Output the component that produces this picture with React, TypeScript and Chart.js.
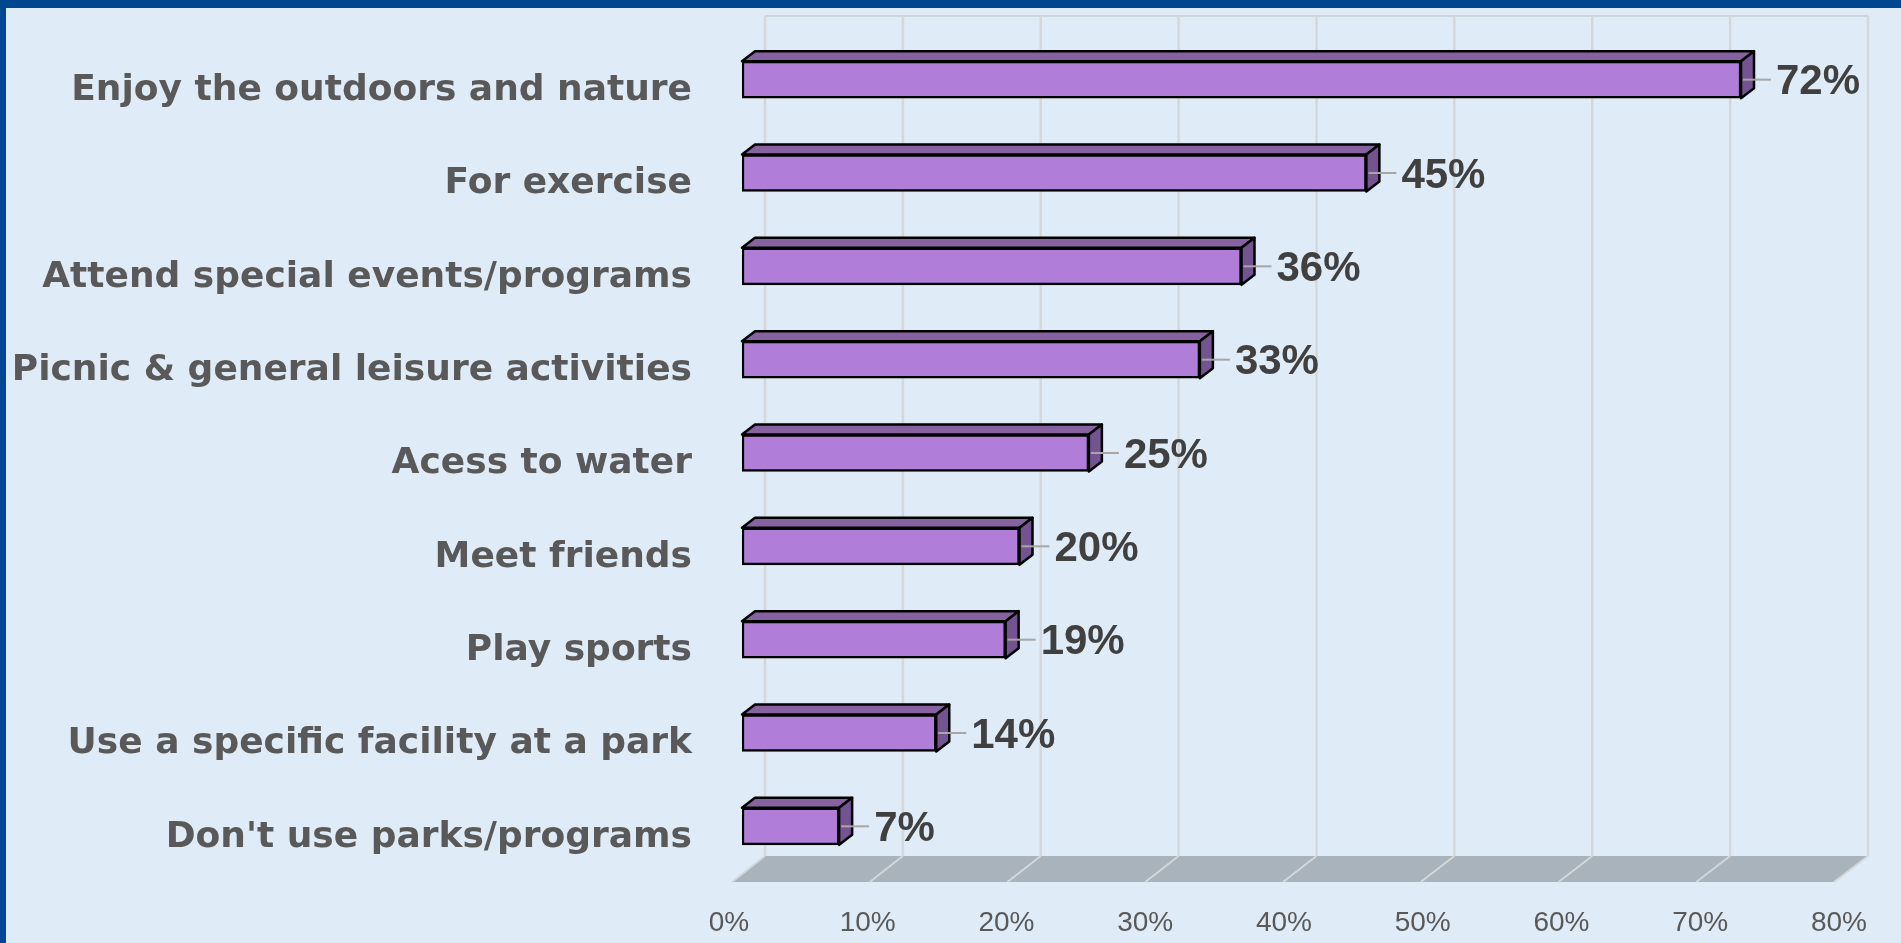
import { useEffect, useRef } from "react";
import { Chart, registerables } from "chart.js";

Chart.register(...registerables);

const categories = [
  "Enjoy the outdoors and nature",
  "For exercise",
  "Attend special events/programs",
  "Picnic & general leisure activities",
  "Acess to water",
  "Meet friends",
  "Play sports",
  "Use a specific facility at a park",
  "Don't use parks/programs",
];
const values = [0.72, 0.45, 0.36, 0.33, 0.25, 0.2, 0.19, 0.14, 0.07];
const valueLabels = ["72%", "45%", "36%", "33%", "25%", "20%", "19%", "14%", "7%"];
const xTickLabels = ["0%", "10%", "20%", "30%", "40%", "50%", "60%", "70%", "80%"];

const BORDER = "#01478F";
const PANEL = "#DFEBF7";
const FRONT = "#B07ED9";
const TOP = "#8662A0";
const SIDE = "#745391";
const GRID = "#D5D8DB";
const FLOOR = "#A9B3BB";
const DEPTH_X = 13;
const DEPTH_Y = -10;

const threeD = {
  id: "threeD",
  beforeDraw(chart: any) {
    const { ctx, width, height } = chart;
    ctx.save();
    ctx.fillStyle = BORDER;
    ctx.fillRect(0, 0, width, height);
    ctx.fillStyle = PANEL;
    ctx.fillRect(6, 8, width - 6, height - 8);
    ctx.restore();
  },
  beforeDatasetsDraw(chart: any) {
    const { ctx, chartArea: a, scales } = chart;
    const x = scales.x;
    const left = x.getPixelForValue(0);
    const backX = (v: number) => {
      const p = x.getPixelForValue(v);
      return p + 23 - (p - left) * 0.0063;
    };
    const frontX = (v: number) => {
      const p = x.getPixelForValue(v);
      return p - 10 - (p - left) * 0.0072;
    };
    const wallTop = a.top - 17;
    const floorBack = a.bottom - 17;
    const floorFront = a.bottom + 9;
    const tickVals: number[] = x.ticks.map((t: any) => t.value);
    const vMin = tickVals[0];
    const vMax = tickVals[tickVals.length - 1];
    ctx.save();
    ctx.fillStyle = FLOOR;
    ctx.beginPath();
    ctx.moveTo(backX(vMin), floorBack);
    ctx.lineTo(backX(vMax), floorBack);
    ctx.lineTo(frontX(vMax), floorFront);
    ctx.lineTo(frontX(vMin), floorFront);
    ctx.closePath();
    ctx.fill();
    ctx.strokeStyle = "#C9CFD6";
    ctx.lineWidth = 1.5;
    ctx.beginPath();
    ctx.moveTo(backX(vMin), wallTop);
    ctx.lineTo(backX(vMax), wallTop);
    ctx.stroke();
    ctx.strokeStyle = GRID;
    ctx.lineWidth = 2.5;
    tickVals.forEach((v) => {
      ctx.beginPath();
      ctx.moveTo(backX(v), wallTop);
      ctx.lineTo(backX(v), floorBack);
      ctx.stroke();
    });
    ctx.strokeStyle = "#D2D7DB";
    ctx.lineWidth = 2;
    tickVals.forEach((v) => {
      ctx.beginPath();
      ctx.moveTo(backX(v), floorBack);
      ctx.lineTo(frontX(v), floorFront);
      ctx.stroke();
    });
    ctx.restore();
  },
  afterDatasetsDraw(chart: any) {
    const { ctx } = chart;
    const meta = chart.getDatasetMeta(0);
    ctx.save();
    ctx.lineJoin = "round";
    meta.data.forEach((bar: any, i: number) => {
      const { x, y, base, height } = bar.getProps(["x", "y", "base", "height"], true);
      const l = Math.min(base, x);
      const r = Math.max(base, x);
      const t = y - height / 2;
      const b = y + height / 2;
      ctx.lineWidth = 2.5;
      ctx.strokeStyle = "#000";
      ctx.fillStyle = TOP;
      ctx.beginPath();
      ctx.moveTo(l, t);
      ctx.lineTo(l + DEPTH_X, t + DEPTH_Y);
      ctx.lineTo(r + DEPTH_X, t + DEPTH_Y);
      ctx.lineTo(r, t);
      ctx.closePath();
      ctx.fill();
      ctx.stroke();
      ctx.fillStyle = SIDE;
      ctx.beginPath();
      ctx.moveTo(r, t);
      ctx.lineTo(r + DEPTH_X, t + DEPTH_Y);
      ctx.lineTo(r + DEPTH_X, b + DEPTH_Y);
      ctx.lineTo(r, b);
      ctx.closePath();
      ctx.fill();
      ctx.stroke();
      ctx.strokeStyle = "#A6A6A6";
      ctx.lineWidth = 2;
      ctx.beginPath();
      ctx.moveTo(r + 2, y);
      ctx.lineTo(r + 30, y);
      ctx.stroke();
      ctx.fillStyle = "#404040";
      ctx.font = "bold 42px 'Liberation Sans', Arial, sans-serif";
      ctx.textAlign = "left";
      ctx.textBaseline = "middle";
      ctx.fillText(valueLabels[i], r + 35, y + 3);
    });
    ctx.restore();
  },
};

export default function App() {
  const ref = useRef<HTMLCanvasElement | null>(null);
  useEffect(() => {
    if (!ref.current) return;
    const chart = new Chart(ref.current, {
      type: "bar",
      data: {
        labels: categories,
        datasets: [
          {
            data: values,
            backgroundColor: FRONT,
            borderColor: "#000",
            borderWidth: 2.5,
            borderSkipped: false,
            barThickness: 37,
          },
        ],
      },
      options: {
        indexAxis: "y",
        responsive: false,
        animation: false,
        devicePixelRatio: 1,
        layout: { padding: { top: 33, right: 49, left: 0, bottom: 0 } },
        plugins: { legend: { display: false }, tooltip: { enabled: false } },
        scales: {
          x: {
            min: 0,
            max: 0.8,
            grid: { display: false, drawTicks: false },
            border: { display: false },
            afterFit: (s: any) => {
              s.height = 70;
              s.paddingLeft = 0;
              s.paddingRight = 0;
            },
            ticks: {
              stepSize: 0.1,
              autoSkip: false,
              maxRotation: 0,
              padding: 33,
              labelOffset: -13,
              color: "#595959",
              font: { family: "'Liberation Sans', Arial, sans-serif", size: 28 },
              callback: (_v: any, i: number) => xTickLabels[i],
            },
          },
          y: {
            grid: { display: false, drawTicks: false },
            border: { display: false },
            afterFit: (s: any) => {
              s.width = 742;
              s.paddingTop = 0;
              s.paddingBottom = 0;
            },
            ticks: {
              padding: 50,
              labelOffset: 11,
              color: "#595959",
              font: { family: "'DejaVu Sans', sans-serif", size: 36, weight: "bold" },
            },
          },
        },
      },
      plugins: [threeD],
    } as any);
    return () => chart.destroy();
  }, []);
  return (
    <div style={{ position: "fixed", left: 0, top: 0, width: 1901, height: 943 }}>
      <canvas ref={ref} width={1901} height={943} style={{ display: "block" }} />
    </div>
  );
}
